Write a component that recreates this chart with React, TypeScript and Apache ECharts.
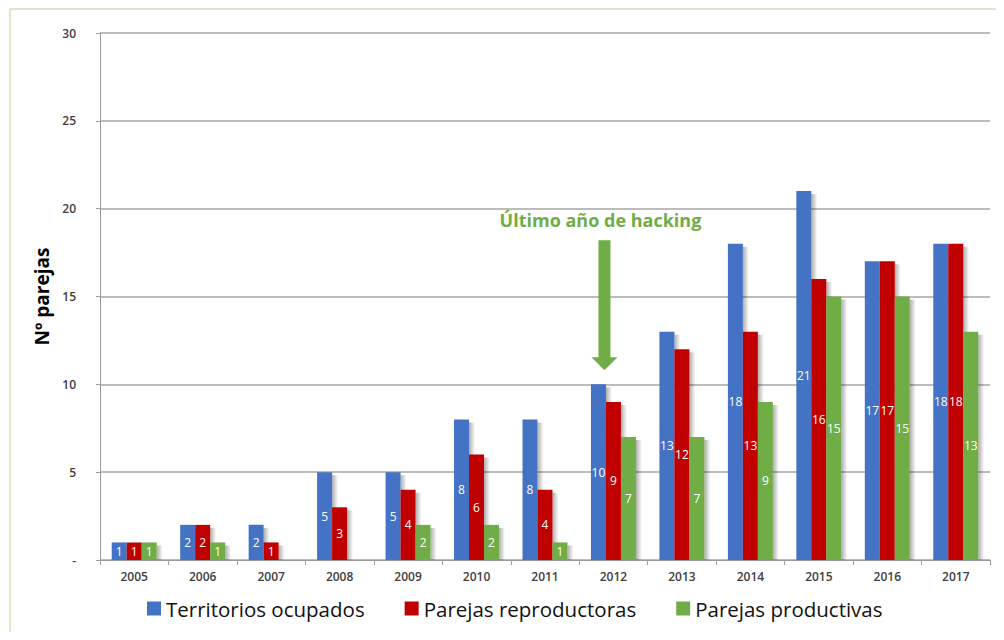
import React, { useEffect, useRef } from "react";
import * as echarts from "echarts";

const years = ["2005", "2006", "2007", "2008", "2009", "2010", "2011", "2012", "2013", "2014", "2015", "2016", "2017"];
const territorios = [1, 2, 2, 5, 5, 8, 8, 10, 13, 18, 21, 17, 18];
const reproductoras = [1, 2, 1, 3, 4, 6, 4, 9, 12, 13, 16, 17, 18];
const productivas: (number | null)[] = [1, 1, null, null, 2, 2, 1, 7, 7, 9, 15, 15, 13];

const seriesNames = ["Territorios ocupados", "Parejas reproductoras", "Parejas productivas"];
const seriesColors = ["#4472c4", "#c00000", "#70ad47"];
const annotationYear = "2012";
const annotationText = "Último año de hacking";

const FONT = "'Open Sans', 'Liberation Sans', sans-serif";
const BAR_W = 15;

function barSeries(name: string, data: (number | null)[], color: string) {
  return {
    name,
    type: "bar",
    data,
    barWidth: BAR_W,
    barGap: "0%",
    z: 3,
    itemStyle: { color },
    label: {
      show: true,
      position: "inside",
      color: "#ffffff",
      fontSize: 12,
      fontWeight: 500,
      fontFamily: FONT,
    },
  };
}

// Soft drop shadow to the right of every bar, drawn beneath the bars
function shadowSeries(all: (number | null)[][]) {
  const data: number[][] = [];
  all.forEach((vals, s) =>
    vals.forEach((v, i) => {
      if (v != null) data.push([i, v, s]);
    })
  );
  const n = all.length;
  return {
    type: "custom",
    z: 1,
    silent: true,
    data,
    encode: { x: 0, y: 1 },
    renderItem: (_params: any, api: any) => {
      const i = api.value(0);
      const v = api.value(1);
      const s = api.value(2);
      const top = api.coord([i, v]);
      const base = api.coord([i, 0]);
      const right = top[0] - (n * BAR_W) / 2 + (s + 1) * BAR_W;
      return {
        type: "rect",
        shape: { x: right, y: top[1] + 3, width: 6, height: base[1] - top[1] - 3 },
        style: {
          fill: new echarts.graphic.LinearGradient(0, 0, 1, 0, [
            { offset: 0, color: "rgba(0,0,0,0.32)" },
            { offset: 1, color: "rgba(0,0,0,0)" },
          ]),
        },
      };
    },
  };
}

export default function App() {
  const ref = useRef<HTMLDivElement>(null);

  useEffect(() => {
    if (!ref.current) return;
    const chart = echarts.init(ref.current, null, { renderer: "svg" });
    chart.setOption({
      animation: false,
      backgroundColor: "#ffffff",
      grid: { left: 100, right: 14, top: 33, bottom: 80, containLabel: false },
      legend: {
        bottom: 16,
        left: 142,
        itemWidth: 14,
        itemHeight: 14,
        itemGap: 40,
        icon: "rect",
        textStyle: { fontSize: 20.5, color: "#111111", fontFamily: FONT },
        data: seriesNames,
      },
      xAxis: {
        type: "category",
        data: years,
        axisLine: { lineStyle: { color: "#9a9a9a" } },
        axisTick: { show: true, length: 5, lineStyle: { color: "#9a9a9a" } },
        axisLabel: { color: "#404040", fontSize: 12, fontWeight: 600, fontFamily: FONT, margin: 10 },
      },
      yAxis: {
        type: "value",
        min: 0,
        max: 30,
        interval: 5,
        name: "Nº parejas",
        nameLocation: "middle",
        nameGap: 48,
        nameTextStyle: { fontSize: 19, fontWeight: "bold", color: "#000000", fontFamily: FONT },
        axisLine: { show: true, lineStyle: { color: "#9a9a9a" } },
        axisTick: { show: true, length: 4, lineStyle: { color: "#9a9a9a" } },
        axisLabel: {
          color: "#404040",
          fontSize: 12,
          fontWeight: 600,
          fontFamily: FONT,
          margin: 24,
          formatter: (v: number) => (v === 0 ? "-" : String(v)),
        },
        splitLine: { lineStyle: { color: "#a6a6a6", width: 1.5 } },
      },
      series: [
        barSeries(seriesNames[0], territorios, seriesColors[0]),
        barSeries(seriesNames[1], reproductoras, seriesColors[1]),
        barSeries(seriesNames[2], productivas, seriesColors[2]),
        shadowSeries([territorios, reproductoras, productivas]),
      ],
    });

    // Arrow pointing at the first bar of the annotated year, with its caption above
    const idx = years.indexOf(annotationYear);
    const cx = chart.convertToPixel({ xAxisIndex: 0 }, annotationYear) as unknown as number;
    const barTop = chart.convertToPixel({ yAxisIndex: 0 }, territorios[idx]) as unknown as number;
    const ax = cx - 9;
    const tipY = barTop - 14;
    const headTop = tipY - 13;
    const tailY = tipY - 130;
    chart.setOption({
      graphic: [
        {
          type: "polygon",
          shape: {
            points: [
              [ax - 6, tailY],
              [ax + 6, tailY],
              [ax + 6, headTop],
              [ax + 13, headTop],
              [ax, tipY],
              [ax - 13, headTop],
              [ax - 6, headTop],
            ],
          },
          style: { fill: "#70ad47" },
        },
        {
          type: "text",
          x: ax - 4,
          y: tailY - 20,
          style: {
            text: annotationText,
            fill: "#70ad47",
            font: `bold 18px ${FONT}`,
            textAlign: "center",
            textVerticalAlign: "middle",
          },
        },
        {
          type: "line",
          shape: { x1: 10, y1: 9, x2: 1004, y2: 9 },
          style: { stroke: "#dbe9c6", lineWidth: 2 },
        },
        {
          type: "line",
          shape: { x1: 10, y1: 9, x2: 10, y2: 640 },
          style: { stroke: "#dbe9c6", lineWidth: 2 },
        },
      ],
    });

    return () => chart.dispose();
  }, []);

  return <div ref={ref} style={{ width: 1004, height: 640, margin: -8 }} />;
}
